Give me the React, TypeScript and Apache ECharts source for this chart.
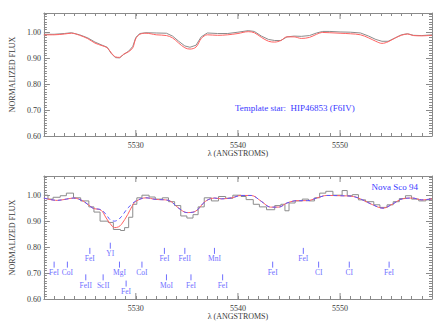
import React, { useEffect, useRef } from "react";
import * as echarts from "echarts";

// ---------- data ----------
const xMin = 5521;
const xMax = 5559;
const yMin = 0.6;
const yMax = 1.074;
const xMajorTicks = [5530, 5540, 5550];

// top panel: template star (gray) and broadened template (red)
const topWave = [
  5521.0, 5522.0, 5523.0, 5523.7, 5524.5, 5525.3, 5526.0, 5526.7, 5527.2, 5527.6,
  5528.0, 5528.4, 5528.8, 5529.3, 5529.7, 5530.0, 5530.4, 5531.0, 5532.0, 5533.0,
  5533.6, 5534.2, 5534.8, 5535.3, 5535.9, 5536.4, 5537.0, 5538.0, 5539.0, 5540.0,
  5541.0, 5541.6, 5542.3, 5543.0, 5543.6, 5544.2, 5544.8, 5545.5, 5546.2, 5547.0,
  5547.7, 5548.3, 5549.0, 5550.0, 5551.0, 5552.0, 5552.8, 5553.5, 5554.1, 5554.7,
  5555.4, 5556.0, 5556.6, 5557.2, 5558.0, 5559.0,
];
const topGrayFlux = [
  0.992, 0.992, 0.995, 0.998, 0.99, 0.978, 0.962, 0.95, 0.942, 0.918,
  0.902, 0.901, 0.914, 0.927, 0.945, 0.98, 0.995, 0.998, 0.997, 0.996,
  0.985, 0.965, 0.947, 0.942, 0.95, 0.982, 0.997, 0.995, 0.995, 1.0,
  1.006, 1.003, 0.985, 0.972, 0.968, 0.968, 0.982, 0.985, 0.984, 0.987,
  0.997, 1.003, 1.003, 1.001, 1.0, 0.997, 0.985, 0.972, 0.965, 0.965,
  0.978, 0.99, 0.994, 0.988, 0.987, 0.99,
];
const topRedFlux = [
  0.99, 0.99, 0.993, 0.996, 0.988, 0.975, 0.958, 0.948, 0.94, 0.92,
  0.905, 0.903, 0.915, 0.925, 0.94, 0.975, 0.992, 0.996, 0.99, 0.987,
  0.978, 0.958, 0.94, 0.935, 0.943, 0.975, 0.99, 0.988, 0.99, 0.995,
  1.002, 0.998, 0.98, 0.965, 0.962, 0.968, 0.982, 0.982, 0.976, 0.98,
  0.992, 0.999, 0.998, 0.996, 0.994, 0.99, 0.978, 0.965, 0.957, 0.963,
  0.978, 0.988, 0.993, 0.987, 0.986, 0.988,
];

// bottom panel: Nova Sco 94 observed spectrum (gray histogram, bin left edges)
const novaEdges = [
  5521.0, 5521.4, 5521.9, 5522.6, 5523.2, 5523.9, 5524.6, 5525.4, 5525.9, 5526.5,
  5527.3, 5527.8, 5528.5, 5528.9, 5529.3, 5529.7, 5530.1, 5530.6, 5531.3, 5531.9,
  5532.6, 5533.2, 5533.8, 5534.4, 5535.0, 5535.6, 5536.1, 5536.7, 5537.4, 5538.1,
  5538.8, 5539.5, 5540.3, 5540.8, 5541.5, 5542.1, 5542.8, 5543.6, 5544.2, 5544.6,
  5545.0, 5545.6, 5546.3, 5546.9, 5547.5, 5548.0, 5548.6, 5549.3, 5550.2, 5550.7,
  5551.2, 5551.8, 5552.5, 5553.3, 5553.9, 5554.6, 5555.2, 5555.8, 5556.4, 5557.0,
  5557.7, 5558.4, 5559.0,
];
const novaFlux = [
  1.0, 0.985, 0.992, 0.998, 1.008, 0.99, 0.978, 0.955, 0.935, 0.9,
  0.895, 0.868, 0.864, 0.875, 0.915, 0.965, 0.99, 1.0, 0.993, 0.985,
  0.99, 0.975, 0.96, 0.92, 0.912, 0.925, 0.955, 0.99, 0.978, 0.995,
  0.988, 1.0, 0.995, 0.983, 0.965, 0.955, 0.944, 0.96, 0.965, 0.94,
  0.97, 0.978, 0.985, 0.978, 0.99, 1.008, 1.015, 1.0, 1.018, 0.998,
  1.002, 0.982, 0.975, 0.963, 0.953, 0.963, 0.975, 0.987, 0.998, 0.985,
  0.978, 0.982, 0.982,
];

// bottom panel: broadened template fits (red solid, blue dashed)
const fitWave = [
  5521.0, 5522.3, 5523.2, 5523.9, 5524.9, 5525.8, 5526.6, 5527.1, 5527.5, 5527.9,
  5528.3, 5528.6, 5529.2, 5529.6, 5530.0, 5531.0, 5531.9, 5533.2, 5534.2, 5535.0,
  5535.8, 5536.8, 5537.7, 5538.4, 5539.4, 5540.3, 5541.3, 5542.3, 5543.2, 5544.0,
  5544.8, 5545.8, 5546.8, 5547.7, 5548.7, 5550.0, 5551.3, 5552.2, 5553.2, 5554.2,
  5555.1, 5556.1, 5557.1, 5558.0, 5559.0,
];
const fitRedFlux = [
  0.989, 0.98, 0.985, 0.989, 0.976, 0.95, 0.942, 0.912, 0.89, 0.875,
  0.878, 0.888, 0.925, 0.955, 0.976, 0.99, 0.984, 0.98, 0.95, 0.933,
  0.937, 0.976, 0.989, 0.986, 0.99, 0.999, 0.999, 0.976, 0.954, 0.954,
  0.97, 0.979, 0.979, 0.989, 0.999, 0.998, 0.995, 0.982, 0.963, 0.95,
  0.965, 0.986, 0.989, 0.982, 0.986,
];
const fitBlueFlux = [
  0.989, 0.98, 0.985, 0.989, 0.976, 0.95, 0.944, 0.925, 0.905, 0.9,
  0.906, 0.918, 0.95, 0.965, 0.978, 0.99, 0.984, 0.98, 0.95, 0.933,
  0.937, 0.976, 0.989, 0.986, 0.99, 0.999, 0.999, 0.976, 0.954, 0.954,
  0.97, 0.979, 0.979, 0.989, 0.999, 0.998, 0.995, 0.982, 0.963, 0.95,
  0.965, 0.986, 0.989, 0.982, 0.986,
];

// line identifications
const lineNames = [
  "FeI", "CoI", "FeI", "FeII", "ScII", "YI", "MgI", "FeI", "CoI", "FeI",
  "MoI", "FeII", "FeI", "MnI", "FeI", "FeI", "FeI", "CI", "CI", "FeI",
];
const lineWaves = [
  5522.0, 5523.3, 5525.5, 5525.1, 5526.8, 5527.5, 5528.4, 5529.05, 5530.6, 5532.8,
  5533.0, 5534.8, 5535.4, 5537.7, 5538.5, 5543.4, 5546.4, 5547.9, 5550.9, 5554.8,
];
const lineLevels = [
  0.744, 0.744, 0.797, 0.695, 0.695, 0.817, 0.744, 0.671, 0.744, 0.797,
  0.695, 0.797, 0.695, 0.797, 0.695, 0.744, 0.797, 0.744, 0.744, 0.744,
];

// ---------- styling ----------
const FONT = "Liberation Serif";
const AXIS_COLOR = "#8a8a8a";
const TEXT_COLOR = "#3a3a3a";
const GRAY = "#8c8c8c";
const RED = "#ff6262";
const BLUE = "#5a5aff";
const ID_BLUE = "#6f6fff";

function xAxes(gridIndex: number) {
  const common = {
    gridIndex,
    type: "value",
    min: xMin,
    max: xMax,
    interval: 1,
    splitLine: { show: false },
    axisLine: { show: true, lineStyle: { color: AXIS_COLOR, width: 1 } },
    axisTick: { show: true, inside: true, length: 3, lineStyle: { color: AXIS_COLOR } },
  };
  return [
    {
      ...common,
      position: "bottom",
      name: "λ (ANGSTROMS)",
      nameLocation: "middle",
      nameGap: 13,
      nameTextStyle: { fontFamily: FONT, fontSize: 8, color: TEXT_COLOR },
      axisLabel: {
        show: true,
        margin: 5,
        fontFamily: FONT,
        fontSize: 8,
        color: TEXT_COLOR,
        formatter: (v: number) => (Math.round(v) % 10 === 0 ? String(Math.round(v)) : ""),
      },
    },
    { ...common, position: "top", axisLabel: { show: false } },
  ];
}

function yAxes(gridIndex: number) {
  const common = {
    gridIndex,
    type: "value",
    min: yMin,
    max: yMax,
    interval: 0.1,
    splitLine: { show: false },
    axisLine: { show: true, lineStyle: { color: AXIS_COLOR, width: 1 } },
    axisTick: { show: true, inside: true, length: 6, lineStyle: { color: AXIS_COLOR } },
    minorTick: { show: true, splitNumber: 10, length: 3, lineStyle: { color: AXIS_COLOR } },
  };
  return [
    {
      ...common,
      position: "left",
      name: "NORMALIZED FLUX",
      nameLocation: "middle",
      nameGap: 24,
      nameTextStyle: { fontFamily: FONT, fontSize: 8, color: TEXT_COLOR },
      axisLabel: {
        show: true,
        margin: 3,
        fontFamily: FONT,
        fontSize: 8,
        color: TEXT_COLOR,
        formatter: (v: number) =>
          Math.abs(v * 10 - Math.round(v * 10)) < 1e-6 ? v.toFixed(2) : "",
      },
    },
    { ...common, position: "right", axisLabel: { show: false } },
  ];
}

function majorTickSeries(xAxisIndex: number, yAxisIndex: number) {
  return {
    type: "custom",
    xAxisIndex,
    yAxisIndex,
    silent: true,
    data: xMajorTicks.map((v) => [v]),
    renderItem: (_p: any, api: any) => {
      const v = api.value(0);
      const b = api.coord([v, yMin]);
      const t = api.coord([v, yMax]);
      const st = { stroke: AXIS_COLOR, lineWidth: 1 };
      return {
        type: "group",
        children: [
          { type: "line", shape: { x1: b[0], y1: b[1], x2: b[0], y2: b[1] - 6 }, style: st },
          { type: "line", shape: { x1: t[0], y1: t[1], x2: t[0], y2: t[1] + 6 }, style: st },
        ],
      };
    },
  };
}

export default function App() {
  const ref = useRef<HTMLDivElement>(null);

  useEffect(() => {
    if (!ref.current) return;
    const chart = echarts.init(ref.current, undefined, { renderer: "svg" });

    const option: any = {
      animation: false,
      backgroundColor: "#ffffff",
      textStyle: { fontFamily: FONT },
      grid: [
        { left: 40, top: 13, width: 392, height: 123 },
        { left: 40, top: 176, width: 392, height: 123 },
      ],
      xAxis: [...xAxes(0), ...xAxes(1)],
      yAxis: [...yAxes(0), ...yAxes(1)],
      graphic: [
        {
          type: "text",
          left: 235,
          top: 103,
          style: {
            text: "Template star:  HIP46853 (F6IV)",
            fill: "#3a3aff",
            fontFamily: FONT,
            fontSize: 9,
          },
        },
        {
          type: "text",
          right: 26,
          top: 182,
          style: {
            text: "Nova Sco 94",
            fill: "#3a3aff",
            fontFamily: FONT,
            fontSize: 9,
          },
        },
      ],
      series: [
        {
          type: "line",
          xAxisIndex: 0,
          yAxisIndex: 0,
          data: topWave.map((w, i) => [w, topGrayFlux[i]]),
          symbol: "none",
          lineStyle: { color: GRAY, width: 1 },
        },
        {
          type: "line",
          xAxisIndex: 0,
          yAxisIndex: 0,
          data: topWave.map((w, i) => [w, topRedFlux[i]]),
          smooth: 0.35,
          symbol: "none",
          lineStyle: { color: RED, width: 1 },
        },
        majorTickSeries(0, 0),
        {
          type: "line",
          xAxisIndex: 2,
          yAxisIndex: 2,
          data: novaEdges.map((w, i) => [w, novaFlux[i]]),
          step: "end",
          symbol: "none",
          lineStyle: { color: GRAY, width: 1 },
        },
        {
          type: "line",
          xAxisIndex: 2,
          yAxisIndex: 2,
          data: fitWave.map((w, i) => [w, fitRedFlux[i]]),
          smooth: 0.35,
          symbol: "none",
          lineStyle: { color: RED, width: 1 },
        },
        {
          type: "line",
          xAxisIndex: 2,
          yAxisIndex: 2,
          data: fitWave.map((w, i) => [w, fitBlueFlux[i]]),
          smooth: 0.35,
          symbol: "none",
          lineStyle: { color: BLUE, width: 1, type: [4, 3] },
        },
        majorTickSeries(2, 2),
        {
          type: "custom",
          xAxisIndex: 2,
          yAxisIndex: 2,
          silent: true,
          data: lineWaves.map((w, i) => [w, lineLevels[i]]),
          renderItem: (params: any, api: any) => {
            const p = api.coord([api.value(0), api.value(1)]);
            return {
              type: "group",
              children: [
                {
                  type: "line",
                  shape: { x1: p[0], y1: p[1], x2: p[0], y2: p[1] + 6 },
                  style: { stroke: ID_BLUE, lineWidth: 1 },
                },
                {
                  type: "text",
                  x: p[0],
                  y: p[1] + 7,
                  style: {
                    text: lineNames[params.dataIndex],
                    fill: ID_BLUE,
                    fontFamily: FONT,
                    fontSize: 7.5,
                    align: "center",
                    verticalAlign: "top",
                  },
                },
              ],
            };
          },
        },
      ],
    };

    chart.setOption(option);
    return () => chart.dispose();
  }, []);

  return (
    <div
      ref={ref}
      style={{ position: "fixed", left: 0, top: 0, width: 444, height: 327, background: "#fff" }}
    />
  );
}
